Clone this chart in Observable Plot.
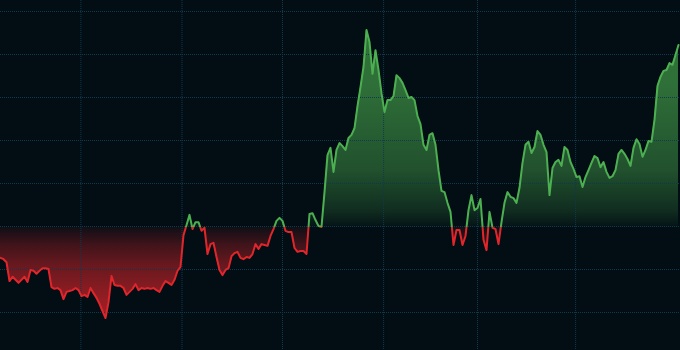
<!DOCTYPE html>
<html><head><meta charset="utf-8">
<script src="https://cdn.jsdelivr.net/npm/d3@7"></script>
<script src="https://cdn.jsdelivr.net/npm/@observablehq/plot@0.6"></script>
<style>html,body{margin:0;padding:0;background:#020d14;} #chart svg{display:block}</style>
</head><body><div id="chart"></div>
<script>
const values = [
  92.7, 92.4, 91.7, 87.3, 88.3, 87.6, 86.9, 87.6, 88.3, 87.1,
  89.9, 89.7, 89.0, 89.7, 90.3, 90.3, 90.1, 85.9, 85.5, 85.7,
  85.2, 83.1, 84.8, 85.0, 85.2, 85.7, 85.2, 83.8, 84.1, 83.6,
  85.7, 84.5, 83.4, 82.0, 80.3, 78.7, 82.4, 88.5, 86.4, 86.2,
  86.2, 85.7, 84.1, 84.8, 85.5, 86.6, 85.2, 85.7, 85.5, 85.7,
  85.5, 85.7, 85.2, 84.8, 86.2, 87.3, 86.9, 86.4, 87.6, 89.7,
  90.6, 98.0, 100.3, 102.7, 99.4, 101.0, 101.0, 99.0, 99.7, 93.6,
  95.9, 96.2, 92.9, 89.9, 88.7, 89.9, 90.3, 93.1, 93.8, 94.1,
  92.7, 92.4, 92.9, 92.7, 93.6, 95.9, 94.8, 95.9, 95.7, 95.5,
  97.8, 99.4, 101.3, 102.0, 101.3, 99.0, 98.7, 98.7, 95.0, 94.1,
  94.3, 94.3, 93.6, 102.9, 103.1, 101.5, 100.1, 99.9, 108.0, 116.6,
  118.3, 112.7, 117.8, 119.4, 118.7, 117.8, 120.6, 121.3, 122.9, 128.0,
  132.4, 137.1, 145.7, 142.9, 135.5, 141.0, 136.4, 131.0, 126.6, 129.4,
  129.4, 130.3, 135.2, 134.5, 133.4, 131.7, 129.9, 130.1, 129.4, 125.7,
  123.8, 119.0, 117.8, 121.3, 121.7, 119.0, 113.1, 108.3, 108.0, 105.5,
  103.4, 95.7, 99.2, 99.2, 95.7, 97.8, 103.8, 107.3, 103.8, 104.3,
  106.4, 96.9, 94.5, 103.4, 99.7, 99.4, 95.9, 101.0, 105.5, 108.0,
  106.9, 106.6, 105.5, 109.0, 114.8, 119.0, 119.7, 117.1, 118.5, 122.2,
  121.3, 119.0, 117.3, 107.3, 113.6, 115.0, 115.5, 114.1, 118.5, 117.8,
  115.0, 113.4, 111.5, 111.7, 109.2, 111.5, 113.1, 114.8, 116.4, 115.9,
  113.8, 115.0, 112.7, 111.3, 111.7, 113.1, 116.9, 117.8, 116.9, 115.7,
  114.1, 118.3, 120.3, 119.2, 116.2, 117.8, 119.9, 119.7, 124.8, 132.7,
  134.8, 136.2, 136.4, 138.0, 137.6, 139.9, 142.2
];
const baseline = 99.85;
const yGridTicks = [80, 90, 100, 110, 120, 130, 140, 150];
const xGridTicks = [26.8, 60.5, 94, 127.7, 159, 191.7];

const data = values.map((v, i) => ({i, v}));

const chart = Plot.plot({
  width: 680,
  height: 350,
  margin: 0,
  style: {background: "#020d14", overflow: "hidden"},
  x: {domain: [0, values.length - 1], range: [0, 678], axis: null},
  y: {domain: [71.16, 152.56], axis: null},
  marks: [
    Plot.areaY(data, {x: "i", y1: () => baseline, y2: "v", fill: "url(#fillGrad)"}),
    Plot.ruleY(yGridTicks, {stroke: "#0f3a50", strokeDasharray: "1,1"}),
    Plot.ruleX(xGridTicks, {stroke: "#0f3a50", strokeDasharray: "1,1"}),
    Plot.line(data, {x: "i", y: "v", stroke: "url(#lineGrad)", strokeWidth: 2})
  ]
});

const H = 350;
const yb = chart.scale("y").apply(baseline);
const off = yb / H;
const svg = d3.select(chart);
const defs = svg.insert("defs", ":first-child");

const fg = defs.append("linearGradient").attr("id", "fillGrad")
  .attr("gradientUnits", "userSpaceOnUse")
  .attr("x1", 0).attr("y1", 0).attr("x2", 0).attr("y2", H);
const green = "#4caf50", red = "#e0262b";
[
  [0, green, 0.65],
  [87 / H, green, 0.6],
  [170 / H, green, 0.42],
  [210 / H, green, 0.2],
  [off, green, 0.04],
  [off, red, 0.06],
  [245 / H, red, 0.28],
  [265 / H, red, 0.46],
  [300 / H, red, 0.66],
  [320 / H, red, 0.74],
  [1, red, 0.78]
].forEach(([o, c, a]) => fg.append("stop").attr("offset", o).attr("stop-color", c).attr("stop-opacity", a));

const lg = defs.append("linearGradient").attr("id", "lineGrad")
  .attr("gradientUnits", "userSpaceOnUse")
  .attr("x1", 0).attr("y1", 0).attr("x2", 0).attr("y2", H);
[
  [0, green], [off, green], [off, red], [1, red]
].forEach(([o, c]) => lg.append("stop").attr("offset", o).attr("stop-color", c));

document.getElementById("chart").append(chart);
</script>
</body></html>
